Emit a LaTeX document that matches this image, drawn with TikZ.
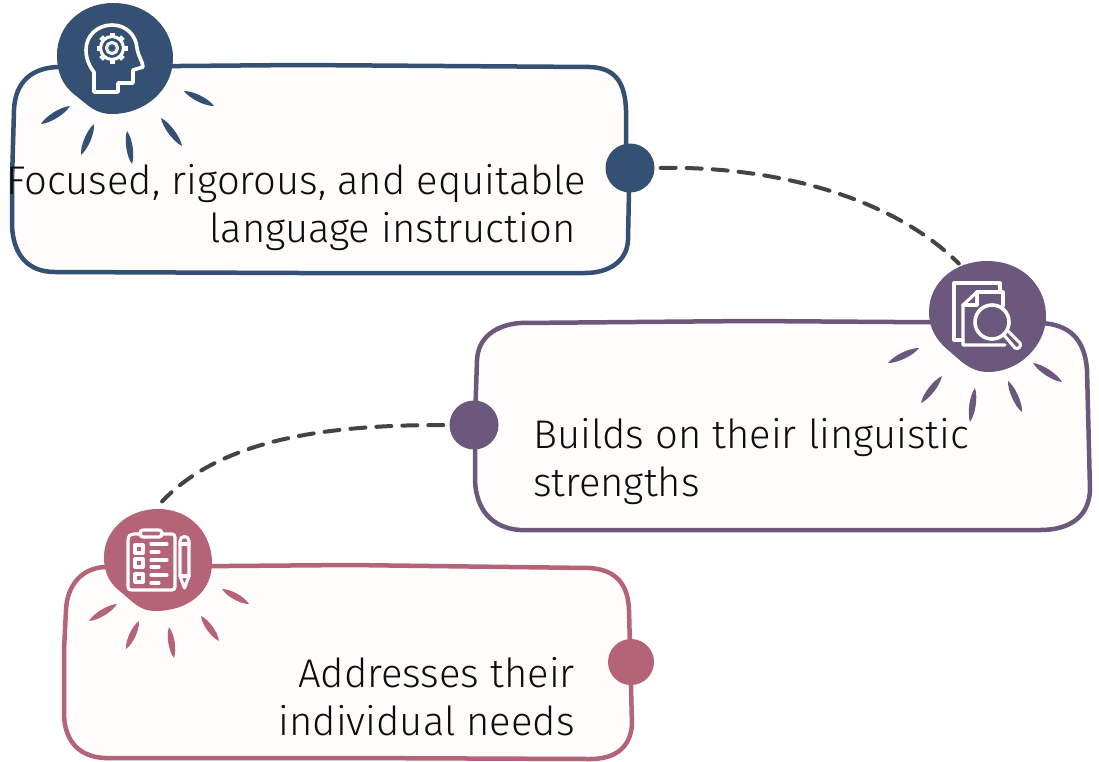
\documentclass[tikz,border=0pt]{standalone}
\usepackage{fontspec}
\usetikzlibrary{calc}
\setmainfont{Fira Sans Light}
\definecolor{cblue}{HTML}{345072}
\definecolor{cpurple}{HTML}{6B587C}
\definecolor{crose}{HTML}{B56477}
\definecolor{cpaper}{HTML}{FFFDFB}
\definecolor{cdash}{HTML}{444444}
\tikzset{
  outline/.style={line width=4.5pt,fill=cpaper,line join=round},
  blobnode/.style={circle,minimum size=112pt,inner sep=0pt},
  dotnode/.style={circle,minimum size=49pt,inner sep=0pt},
  linkline/.style={dash pattern=on 15pt off 11pt,line width=4pt,color=cdash,line cap=round},
  label/.style={font=\fontsize{40}{48}\selectfont,text=black!95,inner sep=0pt},
  icon/.style={draw=white,line width=3.6pt,line join=round,line cap=round},
  iconthin/.style={draw=white,line width=3.1pt,line join=round,line cap=round},
}
\newcommand{\ray}[3]{\coordinate (ra) at #2; \coordinate (rb) at #3;
  \coordinate (rm) at ($(ra)!.5!(rb)$);
  \coordinate (rp) at ($(rm)!4.3pt!90:(rb)$);
  \coordinate (rq) at ($(rm)!4.3pt!-90:(rb)$);
  \fill[#1] (ra) .. controls ($(ra)!.25!(rb)+(rp)-(rm)$) and ($(ra)!.75!(rb)+(rp)-(rm)$) .. (rb)
   .. controls ($(ra)!.75!(rb)+(rq)-(rm)$) and ($(ra)!.25!(rb)+(rq)-(rm)$) .. (ra) -- cycle;}
\begin{document}
\begin{tikzpicture}[x=1pt,y=-1pt]
\useasboundingbox (0,0) rectangle (1099,761);
\fill[white] (0,0) rectangle (1099,761);

% ---------- boxes
\draw[outline,draw=cblue] (60,67) -- (300,65) -- (590,67)
  .. controls (615,68) and (625,82) .. (626,110) -- (626,150) -- (629,190) -- (628,240)
  .. controls (627,262) and (608,273) .. (585,273) -- (300,273) -- (55,272)
  .. controls (28,272) and (13,255) .. (12,225) -- (12,180) -- (14,110)
  .. controls (15,82) and (32,67) .. (60,67) -- cycle;
\draw[outline,draw=cpurple] (520,323) -- (750,321) -- (1040,323)
  .. controls (1070,324) and (1085,340) .. (1087,370) -- (1090,490)
  .. controls (1089,515) and (1072,530) .. (1040,530) -- (760,530) -- (520,530)
  .. controls (492,528) and (476,510) .. (475,480) -- (475,420) -- (477,360)
  .. controls (478,338) and (495,325) .. (520,323) -- cycle;
\draw[outline,draw=crose] (105,567) -- (350,565) -- (590,568)
  .. controls (617,570) and (628,585) .. (629,610) -- (632,725)
  .. controls (630,748) and (615,759) .. (590,759) -- (350,758) -- (105,758)
  .. controls (80,757) and (65,742) .. (64,715) -- (64,650) -- (66,610)
  .. controls (67,585) and (82,568) .. (105,567) -- cycle;

% ---------- named anchors of blobs and dots
\node[blobnode] (blobA) at (115,58) {};
\node[blobnode] (blobB) at (988,316) {};
\node[blobnode] (blobC) at (158,562) {};
\node[dotnode,fill=cblue] (dotA) at (630,168) {};
\node[dotnode,fill=cpurple] (dotB) at (474,425) {};
\node[dotnode,fill=crose,minimum size=46pt] (dotC) at (631,662) {};

% ---------- dashed links
\draw[linkline,shorten >=4pt,shorten <=6pt] (dotA.east) .. controls (770,166) and (890,195) .. (blobB.118);
\draw[linkline,shorten >=6pt,shorten <=6pt] (dotB.west) .. controls (340,425) and (225,435) .. (blobC.north);

% ---------- blobs
\fill[cblue] (113,3) .. controls (150,3) and (174,30) .. (173,60)
  .. controls (172,90) and (145,114) .. (112,114)
  .. controls (95,114) and (88,105) .. (75,95)
  .. controls (62,85) and (57,72) .. (57,55)
  .. controls (57,25) and (82,3) .. (113,3) -- cycle;
\fill[cpurple] (987,261) .. controls (1024,261) and (1047,288) .. (1046,318)
  .. controls (1045,345) and (1020,372) .. (988,372)
  .. controls (970,372) and (960,360) .. (948,350)
  .. controls (936,340) and (929,328) .. (929,312)
  .. controls (929,282) and (955,261) .. (987,261) -- cycle;
\fill[crose] (158,509) .. controls (192,509) and (212,535) .. (212,563)
  .. controls (212,592) and (188,611) .. (155,611)
  .. controls (140,611) and (133,602) .. (122,593)
  .. controls (110,584) and (104,574) .. (104,557)
  .. controls (104,530) and (128,509) .. (158,509) -- cycle;

% ---------- rays
\ray{cblue}{(70,106)}{(41,124)}
\ray{cblue}{(94,124)}{(81,155)}
\ray{cblue}{(127,131)}{(132,164)}
\ray{cblue}{(161,118)}{(182,146)}
\ray{cblue}{(184,91)}{(214,106)}
\ray{cpurple}{(919,348)}{(888,363)}
\ray{cpurple}{(942,376)}{(921,403)}
\ray{cpurple}{(975,388)}{(970,422)}
\ray{cpurple}{(1008,381)}{(1022,412)}
\ray{cpurple}{(1033,363)}{(1062,382)}
\ray{crose}{(117,604)}{(89,621)}
\ray{crose}{(139,621)}{(126,649)}
\ray{crose}{(169,627)}{(174,658)}
\ray{crose}{(201,616)}{(219,641)}
\ray{crose}{(222,589)}{(249,604)}

% ---------- head icon
\draw[icon] (94,92) -- (94,72) .. controls (89,66) and (86,58) .. (86,50)
  .. controls (86,35) and (98,25) .. (112,25)
  .. controls (126,25) and (136,35) .. (137,48)
  .. controls (138,56) and (143,62) .. (143,67) -- (133,70) -- (133,83) -- (118,83) -- (118,92) -- cycle;
\draw[iconthin] (112,48) circle (5.5);
\draw[iconthin] (112,48) circle (11.5);
\foreach \t in {0,45,...,315}{
  \draw[line width=5pt,white] (112,48) ++(\t:11) -- ++(\t:4.5);
}

% ---------- document and magnifier icon
\draw[iconthin] (963,340) -- (954,340) -- (954,283) -- (1000,283) -- (1000,291);
\draw[iconthin] (977,292) -- (1003,292) -- (1003,306);
\draw[iconthin] (977,292) -- (963,305) -- (963,345) -- (1005,345);
\draw[iconthin] (977,292) -- (977,305) -- (963,305);
\draw[icon] (992,322) circle (17);
\draw[iconthin] (1003,334) -- (1015,348) .. controls (1018,350) and (1022,346) .. (1020,343) -- (1007,330);

% ---------- clipboard icon
\draw[iconthin,rounded corners=3pt] (141,534) -- (131,534) -- (128,537) -- (128,590) -- (175,590) -- (175,534) -- (161,534);
\draw[iconthin,rounded corners=3pt] (140,537) -- (140,530) -- (162,530) -- (162,537) -- cycle;
\foreach \y in {549,563,578}{
  \draw[iconthin] (135,\y-4) rectangle (143,\y+4);
}
\foreach \y in {544,560,575}{
  \draw[iconthin] (151,\y) -- (167,\y);
}
\foreach \y in {552,567,583}{
  \draw[iconthin] (151,\y) -- (159,\y);
}
\draw[iconthin] (180,541) .. controls (180,535) and (189,535) .. (189,541) -- (189,576) -- (184.5,588) -- (180,576) -- cycle;
\draw[iconthin] (180,544) -- (189,544);
\draw[iconthin] (180,576) -- (189,576);

% ---------- labels
\node[label,align=right,anchor=center] (textA) at (296.5,208) {Focused, rigorous, and equitable\\language instruction\hspace*{11pt}};
\node[label,align=left,anchor=west] (textB) at (533,461.5) {Builds on their linguistic\\strengths};
\node[label,align=right,anchor=east] (textC) at (575,697) {Addresses their\\individual needs};
\end{tikzpicture}
\end{document}
